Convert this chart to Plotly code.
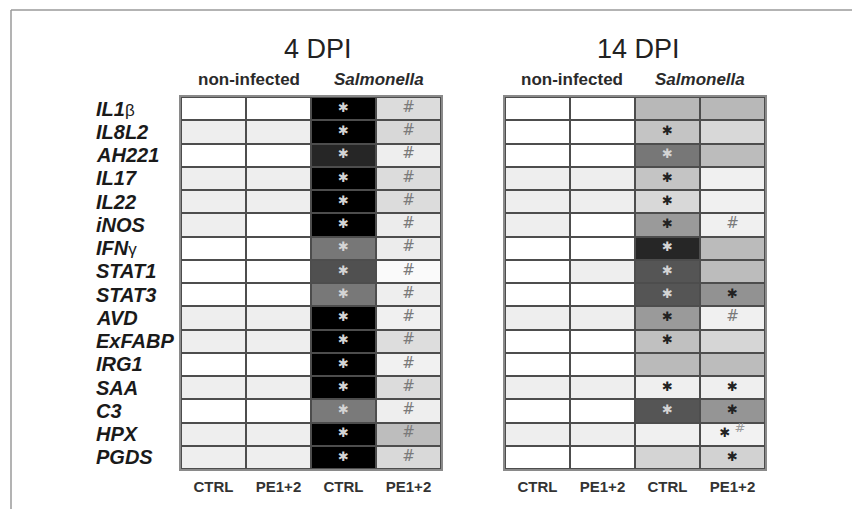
import plotly.graph_objects as go

# Genes (rows, top to bottom)
genes = ["IL1β", "IL8L2", "AH221", "IL17", "IL22", "iNOS", "IFNγ", "STAT1",
         "STAT3", "AVD", "ExFABP", "IRG1", "SAA", "C3", "HPX", "PGDS"]

# Treatment columns within each time point
treatments = ["CTRL", "PE1+2", "CTRL", "PE1+2"]
infection_groups = ["non-infected", "Salmonella"]
timepoints = ["4 DPI", "14 DPI"]

# Grey shade of each cell (0 = black / highest expression, 255 = white)
# columns: non-infected CTRL, non-infected PE1+2, Salmonella CTRL, Salmonella PE1+2
shade_4dpi = [
    [255, 255,   0, 220],
    [238, 238,   0, 216],
    [255, 255,  38, 238],
    [238, 238,   0, 220],
    [238, 238,   0, 220],
    [238, 255,   0, 236],
    [255, 255, 119, 236],
    [255, 255,  80, 250],
    [255, 255, 120, 238],
    [238, 238,   0, 240],
    [238, 238,   0, 221],
    [255, 255,   0, 241],
    [238, 238,   0, 220],
    [255, 255, 122, 238],
    [238, 238,   0, 189],
    [238, 238,   0, 217],
]
shade_14dpi = [
    [255, 255, 184, 184],
    [255, 255, 196, 216],
    [255, 255, 119, 188],
    [238, 238, 196, 240],
    [238, 238, 216, 240],
    [238, 255, 154, 240],
    [255, 255,  38, 187],
    [255, 238,  85, 188],
    [255, 255,  85, 146],
    [238, 238, 154, 240],
    [255, 255, 192, 214],
    [255, 255, 186, 188],
    [238, 238, 239, 239],
    [255, 255,  85, 149],
    [238, 238, 240, 242],
    [255, 255, 212, 210],
]

# Significance marks: "*" vs non-infected, "#" vs infected CTRL
sig_4dpi = [["", "", "*", "#"] for _ in genes]
sig_14dpi = [
    ["", "", "", ""],
    ["", "", "*", ""],
    ["", "", "*", ""],
    ["", "", "*", ""],
    ["", "", "*", ""],
    ["", "", "*", "#"],
    ["", "", "*", ""],
    ["", "", "*", ""],
    ["", "", "*", "*"],
    ["", "", "*", "#"],
    ["", "", "*", ""],
    ["", "", "", ""],
    ["", "", "*", "*"],
    ["", "", "*", "*"],
    ["", "", "", "*#"],
    ["", "", "", "*"],
]

W, H = 852, 509
col_idx = list(range(len(treatments)))
row_idx = list(range(len(genes)))

panels = [
    dict(shade=shade_4dpi, sig=sig_4dpi, dom=[181 / W, 441 / W], xa="x", ya="y"),
    dict(shade=shade_14dpi, sig=sig_14dpi, dom=[505 / W, 765 / W], xa="x2", ya="y2"),
]
ydom = [1 - 469 / H, 1 - 97 / H]

fig = go.Figure()


def mark_text(mark, shade):
    star_col = "#d4d4d4" if shade < 130 else "#222222"
    parts = []
    if "*" in mark:
        parts.append(f"<span style='color:{star_col}'>✱</span>")
    if "#" in mark:
        if "*" in mark:
            parts.append("<sup><span style='color:#9a9a9a;font-size:13px'><i>#</i></span></sup>")
        else:
            parts.append("<span style='color:#7a7a7a;font-size:15px'><i>#</i></span>")
    return " ".join(parts)


for p in panels:
    fig.add_trace(go.Heatmap(
        z=p["shade"], x=col_idx, y=row_idx,
        colorscale=[[0, "#000000"], [1, "#ffffff"]], zmin=0, zmax=255,
        showscale=False, xgap=2, ygap=2, hoverinfo="skip",
        xaxis=p["xa"], yaxis=p["ya"],
    ))
    xs, ys, ts = [], [], []
    for gi in row_idx:
        for ci in col_idx:
            m = p["sig"][gi][ci]
            if m:
                xs.append(ci)
                ys.append(gi)
                ts.append(mark_text(m, p["shade"][gi][ci]))
    fig.add_trace(go.Scatter(
        x=xs, y=ys, text=ts, mode="text",
        textfont=dict(family="DejaVu Sans", size=13, color="#222"),
        hoverinfo="skip", showlegend=False,
        xaxis=p["xa"], yaxis=p["ya"],
    ))

axis_common = dict(showgrid=False, zeroline=False, showline=True, mirror=True,
                   linecolor="#8a8a8a", linewidth=2)
tick_text = [f"<b>{t}</b>" for t in treatments]
for i, p in enumerate(panels):
    sfx = "" if i == 0 else "2"
    fig.update_layout(**{
        f"xaxis{sfx}": dict(domain=p["dom"], anchor=f"y{sfx}",
                            range=[-0.5, len(treatments) - 0.5],
                            tickmode="array", tickvals=col_idx, ticktext=tick_text,
                            ticks="", ticklabelstandoff=3,
                            tickfont=dict(family="Arial", size=15, color="#333"),
                            **axis_common),
        f"yaxis{sfx}": dict(domain=ydom, anchor=f"x{sfx}",
                            range=[len(genes) - 0.5, -0.5],
                            showticklabels=False, ticks="", **axis_common),
    })

annotations = []
# Gene labels, left aligned beside the rows
for gi, g in enumerate(genes):
    if g.endswith("β") or g.endswith("γ"):
        label = f"<b><i>{g[:-1]}</i></b><span style='font-size:17px'>{g[-1]}</span>"
    else:
        label = f"<b><i>{g}</i></b>"
    annotations.append(dict(text=label, x=94 / W, xref="paper", xanchor="left",
                            y=gi, yref="y", yanchor="middle", showarrow=False,
                            font=dict(family="Arial", size=20, color="#1a1a1a")))

# Time point titles and group headers
title_x = [318 / W, 638 / W]
group_x = [[249 / W, 379 / W], [572 / W, 700 / W]]
for i, tp in enumerate(timepoints):
    annotations.append(dict(text=tp, x=title_x[i], xref="paper", y=1 - 49 / H,
                            yref="paper", xanchor="center", yanchor="middle",
                            showarrow=False,
                            font=dict(family="Arial", size=27, color="#222")))
    for j, grp in enumerate(infection_groups):
        txt = f"<b>{grp}</b>" if j == 0 else f"<b><i>{grp}</i></b>"
        annotations.append(dict(text=txt, x=group_x[i][j], xref="paper",
                                y=1 - 80 / H, yref="paper", xanchor="center",
                                yanchor="middle", showarrow=False,
                                font=dict(family="Arial", size=17, color="#2a2a2a")))

fig.update_layout(
    width=W, height=H, margin=dict(l=0, r=0, t=0, b=0),
    paper_bgcolor="white", plot_bgcolor="#4d4d4d",
    showlegend=False, annotations=annotations,
    shapes=[
        dict(type="line", xref="paper", yref="paper", x0=11 / W, x1=1,
             y0=1 - 10 / H, y1=1 - 10 / H, line=dict(color="#9a9a9a", width=1.5)),
        dict(type="line", xref="paper", yref="paper", x0=11 / W, x1=11 / W,
             y0=0, y1=1 - 10 / H, line=dict(color="#9a9a9a", width=1.5)),
    ],
)

fig.write_html("out.html")
